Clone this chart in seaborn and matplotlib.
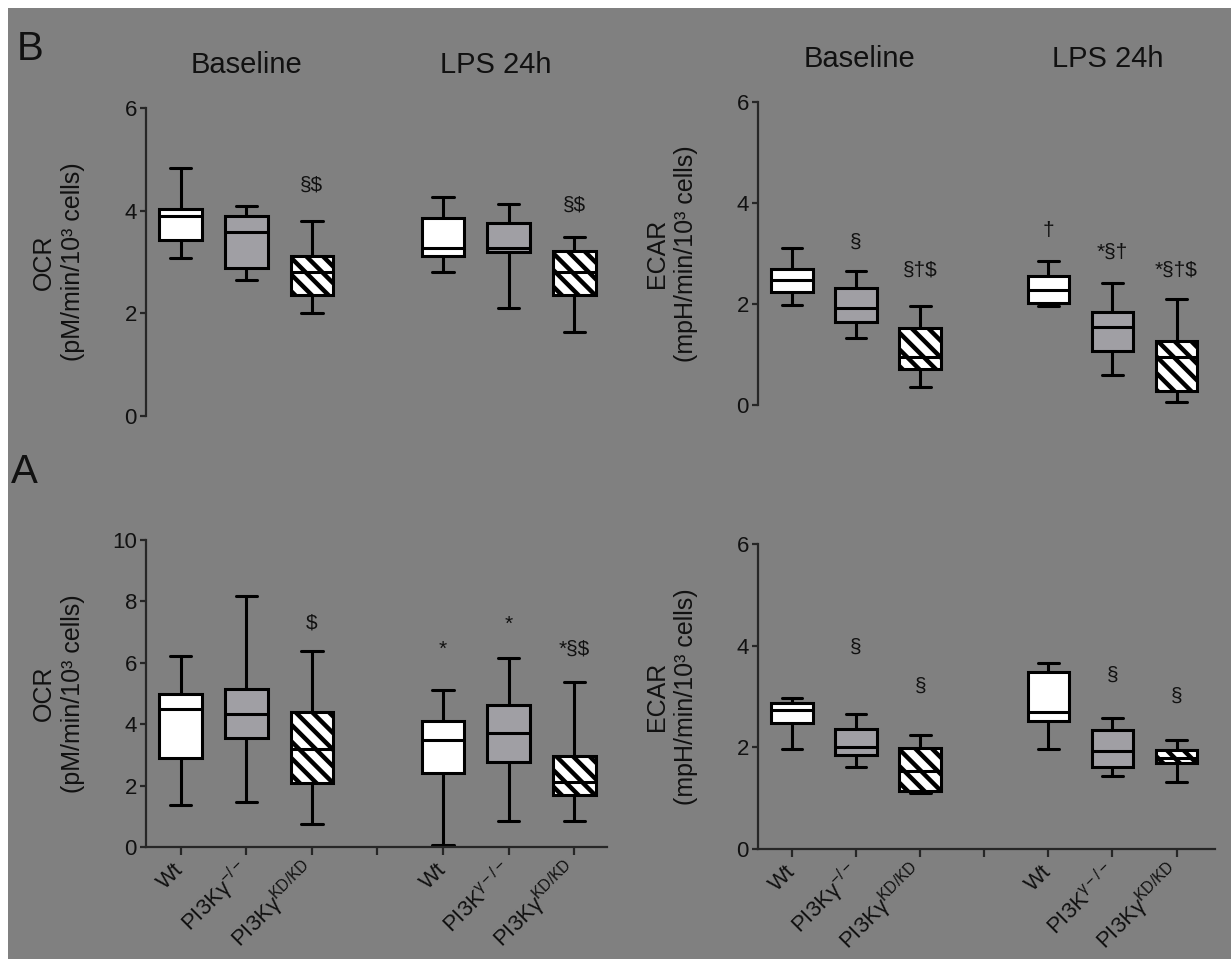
import numpy as np
import pandas as pd
import matplotlib
matplotlib.use("Agg")
import matplotlib.pyplot as plt
import seaborn as sns
from matplotlib import font_manager
from matplotlib.patches import Rectangle

# x categories; the empty "gap" slot separates Baseline from LPS 24h
groups = ["Wt_base", "KO_base", "KD_base", "gap", "Wt_lps", "KO_lps", "KD_lps"]
box_groups = ["Wt_base", "KO_base", "KD_base", "Wt_lps", "KO_lps", "KD_lps"]
genotype = ["Wt", "KO", "KD", "Wt", "KO", "KD"]
tick_labels = ["Wt", r"PI3Kγ$^{\mathrm{-/-}}$", r"PI3Kγ$^{\mathrm{KD/KD}}$", "",
               "Wt", r"PI3K$^{\mathrm{γ-/-}}$", r"PI3Kγ$^{\mathrm{KD/KD}}$"]
conditions = ["Baseline", "LPS 24h"]

# five-number summaries per box: [min, q1, median, q3, max]
b_ocr = [[3.08, 3.42, 3.90, 4.03, 4.84], [2.65, 2.89, 3.58, 3.89, 4.10],
         [2.00, 2.35, 2.80, 3.11, 3.79], [2.80, 3.11, 3.27, 3.86, 4.26],
         [2.10, 3.19, 3.27, 3.76, 4.13], [1.63, 2.36, 2.80, 3.21, 3.48]]
b_ecar = [[1.99, 2.24, 2.47, 2.70, 3.10], [1.33, 1.65, 1.93, 2.31, 2.65],
          [0.36, 0.71, 0.96, 1.53, 1.96], [1.96, 2.01, 2.27, 2.55, 2.85],
          [0.59, 1.07, 1.55, 1.85, 2.41], [0.05, 0.28, 0.96, 1.27, 2.10]]
a_ocr = [[1.37, 2.91, 4.51, 4.97, 6.21], [1.48, 3.54, 4.34, 5.14, 8.16],
         [0.74, 2.09, 3.18, 4.40, 6.40], [0.05, 2.42, 3.49, 4.12, 5.13],
         [0.85, 2.77, 3.71, 4.62, 6.15], [0.85, 1.70, 2.11, 2.97, 5.38]]
a_ecar = [[1.96, 2.48, 2.73, 2.88, 2.97], [1.62, 1.85, 2.00, 2.36, 2.66],
          [1.10, 1.15, 1.53, 1.98, 2.24], [1.96, 2.51, 2.69, 3.49, 3.66],
          [1.44, 1.61, 1.93, 2.35, 2.58], [1.31, 1.70, 1.80, 1.94, 2.14]]

# significance marks and their heights
b_ocr_marks = ["", "", "§$", "", "", "§$"]
b_ocr_mark_y = [None, None, 4.50, None, None, 4.12]
b_ecar_marks = ["", "§", "§†$", "†", "*§†", "*§†$"]
b_ecar_mark_y = [None, 3.23, 2.67, 3.46, 3.02, 2.67]
a_ocr_marks = ["", "", "$", "*", "*", "*§$"]
a_ocr_mark_y = [None, None, 7.29, 6.45, 7.25, 6.45]
a_ecar_marks = ["", "§", "§", "", "§", "§"]
a_ecar_mark_y = [None, 3.97, 3.21, None, 3.41, 3.01]

box_colors = {"Wt": "white", "KO": "#a09fa4", "KD": "white"}


def pick(*names):
    avail = {f.name for f in font_manager.fontManager.ttflist}
    for n in names:
        if n in avail:
            return n
    return "DejaVu Sans"


sns.set_style("ticks")
sans = pick("Liberation Sans", "Arial")
narrow = pick("Liberation Sans Narrow", "Liberation Sans")
plt.rcParams["font.family"] = [sans, "DejaVu Sans"]
plt.rcParams["mathtext.fontset"] = "custom"
plt.rcParams["mathtext.rm"] = sans
plt.rcParams["mathtext.it"] = sans + ":italic"
plt.rcParams["hatch.linewidth"] = 3.2
plt.rcParams["hatch.color"] = "black"

W, H = 1231, 959
fig = plt.figure(figsize=(W / 100, H / 100), dpi=100)
fig.patch.set_facecolor("white")
fig.add_artist(Rectangle((8 / W, 0), 1, 1 - 8 / H, transform=fig.transFigure,
                         facecolor="#808080", edgecolor="none", zorder=-10))

TXT = "#111111"


def px_rect(left, right, top, bottom):
    return [left / W, 1 - bottom / H, (right - left) / W, (bottom - top) / H]


def draw_panel(ax, stats, marks, mark_y, ymax, ylabel, show_x, xmax, title_x):
    rows = []
    for g, geno, s in zip(box_groups, genotype, stats):
        for v in s:
            rows.append((g, geno, v))
    df = pd.DataFrame(rows, columns=["group", "geno", "value"])
    sns.boxplot(data=df, x="group", y="value", hue="geno", order=groups,
                hue_order=["Wt", "KO", "KD"], palette=box_colors, dodge=False,
                whis=(0, 100), width=0.65, linewidth=2.2, linecolor="black",
                saturation=1, legend=False, ax=ax)
    for p in ax.patches:
        try:
            xm = p.get_path().vertices[:, 0].mean()
        except Exception:
            continue
        if abs(xm - 2) < 0.4 or abs(xm - 6) < 0.4:
            p.set_hatch("\\\\")
    ax.set_facecolor("none")
    ax.set_xlim(-0.53, xmax)
    ax.set_ylim(0, ymax)
    ax.set_yticks(np.arange(0, ymax + 1, 2))
    ax.set_xlabel("")
    ax.set_ylabel("")
    for s in ["top", "right"]:
        ax.spines[s].set_visible(False)
    ax.spines["left"].set_linewidth(1.6)
    ax.spines["bottom"].set_linewidth(1.6)
    ax.tick_params(axis="y", length=4.5, width=1.6, labelsize=16, pad=2,
                   labelcolor=TXT)
    for t in ax.get_yticklabels():
        t.set_fontfamily(narrow)
    if show_x:
        ax.set_xticks(range(len(groups)))
        ax.set_xticklabels(tick_labels, rotation=45, ha="right", va="center",
                           rotation_mode="anchor", fontsize=16, color=TXT)
        ax.tick_params(axis="x", length=6, width=1.6, pad=8)
    else:
        ax.spines["bottom"].set_visible(False)
        ax.set_xticks([])
    # significance marks
    for i, (m, y) in enumerate(zip(marks, mark_y)):
        if m:
            ax.text(groups.index(box_groups[i]), y, m, ha="center", va="center",
                    fontsize=15, color=TXT, family=narrow)
    ax.text(-0.19, 0.5, ylabel, transform=ax.transAxes, rotation=90,
            ha="center", va="center", fontsize=18, color=TXT, linespacing=1.25)
    if title_x is not None:
        for tx, t in zip(title_x, conditions):
            ax.annotate(t, xy=(tx, 1), xycoords=("data", "axes fraction"),
                        xytext=(0, 31), textcoords="offset points",
                        ha="center", va="center", fontsize=21, color=TXT)


ocr_label = "OCR\n(pM/min/10³ cells)"
ecar_label = "ECAR\n(mpH/min/10³ cells)"

ax_b1 = fig.add_axes(px_rect(146, 607, 108, 416))
draw_panel(ax_b1, b_ocr, b_ocr_marks, b_ocr_mark_y, 6, ocr_label, False, 6.5,
           [1.0, 4.8])
ax_b2 = fig.add_axes(px_rect(758, 1215, 102, 405))
draw_panel(ax_b2, b_ecar, b_ecar_marks, b_ecar_mark_y, 6, ecar_label, False, 6.6,
           [1.05, 4.92])
ax_a1 = fig.add_axes(px_rect(146, 607, 540, 847))
draw_panel(ax_a1, a_ocr, a_ocr_marks, a_ocr_mark_y, 10, ocr_label, True, 6.5, None)
ax_a2 = fig.add_axes(px_rect(758, 1215, 544, 849))
draw_panel(ax_a2, a_ecar, a_ecar_marks, a_ecar_mark_y, 6, ecar_label, True, 6.6, None)

fig.text(30 / W, 1 - 49 / H, "B", fontsize=29, ha="center", va="center", color=TXT)
fig.text(24 / W, 1 - 472 / H, "A", fontsize=29, ha="center", va="center", color=TXT)

fig.savefig("out.png", dpi=100, facecolor=fig.get_facecolor())
